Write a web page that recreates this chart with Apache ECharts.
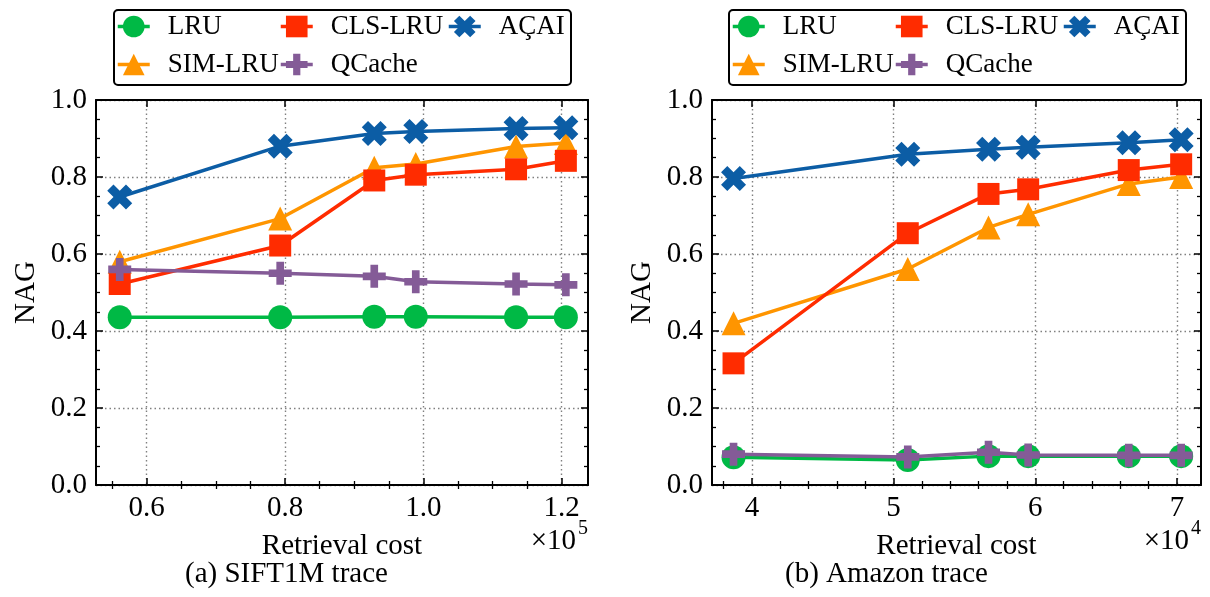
<!DOCTYPE html>
<html>
<head>
<meta charset="utf-8">
<script src="https://cdn.jsdelivr.net/npm/echarts@6/dist/echarts.min.js"></script>
<style>
  html, body { margin: 0; padding: 0; background: #fff; }
  #chart { width: 1210px; height: 597px; }
</style>
</head>
<body>
<div id="chart"></div>
<script>
// series names, in plotting order
const names = ['LRU', 'SIM-LRU', 'CLS-LRU', 'QCache', 'AÇAI'];

// (a) SIFT1M trace, retrieval cost in units of 1e5
const costA = [0.561, 0.793, 0.929, 0.989, 1.134, 1.206];
const lruA = [0.436, 0.436, 0.437, 0.437, 0.436, 0.436];
const simA = [0.580, 0.692, 0.824, 0.834, 0.879, 0.888];
const clsA = [0.522, 0.622, 0.791, 0.806, 0.820, 0.842];
const qcacheA = [0.560, 0.550, 0.542, 0.528, 0.522, 0.520];
const acaiA = [0.748, 0.880, 0.913, 0.918, 0.926, 0.928];

// (b) Amazon trace, retrieval cost in units of 1e4
const costB = [3.87, 5.10, 5.67, 5.95, 6.66, 7.03];
const lruB = [0.072, 0.065, 0.075, 0.075, 0.075, 0.075];
const simB = [0.420, 0.561, 0.669, 0.703, 0.782, 0.800];
const clsB = [0.316, 0.654, 0.756, 0.768, 0.818, 0.833];
const qcacheB = [0.080, 0.073, 0.085, 0.078, 0.077, 0.077];
const acaiB = [0.796, 0.859, 0.872, 0.877, 0.889, 0.897];

// tick labels
const xMajorA = [0.6, 0.8, 1.0, 1.2];
const xMinorA = [0.55, 0.65, 0.7, 0.75, 0.85, 0.9, 0.95, 1.05, 1.1, 1.15];
const xMajorB = [4, 5, 6, 7];
const xMinorB = [3.8, 4.2, 4.4, 4.6, 4.8, 5.2, 5.4, 5.6, 5.8, 6.2, 6.4, 6.6, 6.8];

const FONT = '"Liberation Serif", "DejaVu Serif", serif';
const colors = {
    'LRU': '#00B945',
    'SIM-LRU': '#FF9500',
    'CLS-LRU': '#FF2C00',
    'QCache': '#845B97',
    'AÇAI': '#0C5DA5'
};
const PLUS = 'path://M-1,-3L1,-3L1,-1L3,-1L3,1L1,1L1,3L-1,3L-1,1L-3,1L-3,-1L-1,-1Z';
const XMARK = 'path://M2,-4L4,-2L2,0L4,2L2,4L0,2L-2,4L-4,2L-2,0L-4,-2L-2,-4L0,-2Z';
const symbols = {
    'LRU': ['circle', 24],
    'SIM-LRU': ['triangle', 24],
    'CLS-LRU': ['rect', 22],
    'QCache': [PLUS, 23],
    'AÇAI': [XMARK, 25]
};

const panels = [
    {
        cost: costA, values: [lruA, simA, clsA, qcacheA, acaiA],
        min: 0.5267, max: 1.238, major: xMajorA, minor: xMinorA,
        left: 96, width: 492, exp: '5', digits: 1
    },
    {
        cost: costB, values: [lruB, simB, clsB, qcacheB, acaiB],
        min: 3.718, max: 7.17, major: xMajorB, minor: xMinorB,
        left: 712, width: 489, exp: '4', digits: 0
    }
];

const TOP = 100, BOTTOM = 112;
const black = '#000';
const gridLine = { show: true, lineStyle: { color: '#808080', width: 1.4, type: [1.5, 3] } };

const grid = [], xAxis = [], yAxis = [], series = [], legend = [], graphic = [];

panels.forEach((p, g) => {
    grid.push({ left: p.left, width: p.width, top: TOP, bottom: BOTTOM, containLabel: false, outerBoundsMode: 'none' });

    const baseX = {
        type: 'value', gridIndex: g, min: p.min, max: p.max,
        axisLine: { show: true, onZero: false, lineStyle: { color: black, width: 2 } },
        splitLine: { show: false },
        axisLabel: { show: false }
    };
    // bottom major
    xAxis.push(Object.assign({}, baseX, {
        position: 'bottom',
        axisTick: { show: true, inside: true, length: 7, lineStyle: { color: black, width: 1.5 }, customValues: p.major },
        axisLabel: {
            show: true, customValues: p.major, margin: 9,
            fontFamily: FONT, fontSize: 29, color: black,
            formatter: v => v.toFixed(p.digits)
        },
        splitLine: gridLine,
        name: 'Retrieval cost', nameLocation: 'middle', nameGap: 47,
        nameTextStyle: { fontFamily: FONT, fontSize: 29, color: black }
    }));
    // bottom minor
    xAxis.push(Object.assign({}, baseX, {
        position: 'bottom',
        axisLine: { show: false },
        axisTick: { show: true, inside: true, length: 4, lineStyle: { color: black, width: 1.3 }, customValues: p.minor }
    }));
    // top major
    xAxis.push(Object.assign({}, baseX, {
        position: 'top',
        axisTick: { show: true, inside: true, length: 7, lineStyle: { color: black, width: 1.5 }, customValues: p.major }
    }));
    // top minor
    xAxis.push(Object.assign({}, baseX, {
        position: 'top',
        axisLine: { show: false },
        axisTick: { show: true, inside: true, length: 4, lineStyle: { color: black, width: 1.3 }, customValues: p.minor }
    }));

    const baseY = {
        type: 'value', gridIndex: g, min: 0, max: 1, interval: 0.2,
        axisLine: { show: true, onZero: false, lineStyle: { color: black, width: 2 } },
        axisTick: { show: true, inside: true, length: 7, lineStyle: { color: black, width: 1.5 } },
        minorTick: { show: true, splitNumber: 4, length: 4, lineStyle: { color: black, width: 1.3 } },
        splitLine: { show: false },
        axisLabel: { show: false }
    };
    yAxis.push(Object.assign({}, baseY, {
        position: 'left',
        axisLabel: {
            show: true, margin: 9, fontFamily: FONT, fontSize: 29, color: black,
            formatter: v => v.toFixed(1)
        },
        splitLine: gridLine,
        name: 'NAG', nameLocation: 'middle', nameGap: 55, nameRotate: 90,
        nameTextStyle: { fontFamily: FONT, fontSize: 29, color: black }
    }));
    yAxis.push(Object.assign({}, baseY, { position: 'right' }));

    names.forEach((name, i) => {
        series.push({
            name: name,
            type: 'line',
            xAxisIndex: g * 4,
            yAxisIndex: g * 2,
            data: p.cost.map((c, k) => [c, p.values[i][k]]),
            symbol: symbols[name][0],
            symbolSize: symbols[name][1],
            showAllSymbol: true,
            color: colors[name],
            lineStyle: { width: 3.5, color: colors[name] },
            itemStyle: { color: colors[name] },
            emphasis: { disabled: true },
            animation: false,
            z: 3 + i
        });
    });

    // legend, three columns inside a frame
    const shift = g === 0 ? 0 : 615;
    const cols = [['LRU', 'SIM-LRU'], ['CLS-LRU', 'QCache'], ['AÇAI']];
    const colLeft = [116, 279, 447];
    cols.forEach((col, c) => {
        legend.push({
            data: col,
            orient: 'vertical',
            left: colLeft[c] + shift,
            top: 13,
            padding: 0,
            itemWidth: 32,
            itemHeight: 27,
            itemGap: 11,
            selectedMode: false,
            lineStyle: { width: 3.5 },
            textStyle: { fontFamily: FONT, fontSize: 27, color: black, padding: [0, 0, 0, 13] }
        });
    });
    graphic.push({
        type: 'rect', left: 113 + shift, top: 9, z: -1,
        shape: { width: 457, height: 75, r: 4 },
        style: { fill: '#fff', stroke: black, lineWidth: 2 }
    });

    // x10^n multiplier at the right end of the axis
    const right = p.left + p.width;
    graphic.push({
        type: 'text', right: 1210 - right + 12, top: 527,
        style: { text: '×10', fontFamily: FONT, fontSize: 29, fill: black }
    });
    graphic.push({
        type: 'text', right: 1210 - right, top: 519,
        style: { text: p.exp, fontFamily: FONT, fontSize: 20, fill: black }
    });
});

// sub-figure captions
graphic.push({
    type: 'text', left: 185, top: 560,
    style: { text: '(a) SIFT1M trace', fontFamily: FONT, fontSize: 29, fill: black }
});
graphic.push({
    type: 'text', left: 785, top: 560,
    style: { text: '(b) Amazon trace', fontFamily: FONT, fontSize: 29, fill: black }
});

const chart = echarts.init(document.getElementById('chart'), null, { renderer: 'canvas' });
chart.setOption({
    animation: false,
    backgroundColor: '#fff',
    grid: grid,
    xAxis: xAxis,
    yAxis: yAxis,
    legend: legend,
    graphic: graphic,
    series: series
});
</script>
</body>
</html>
